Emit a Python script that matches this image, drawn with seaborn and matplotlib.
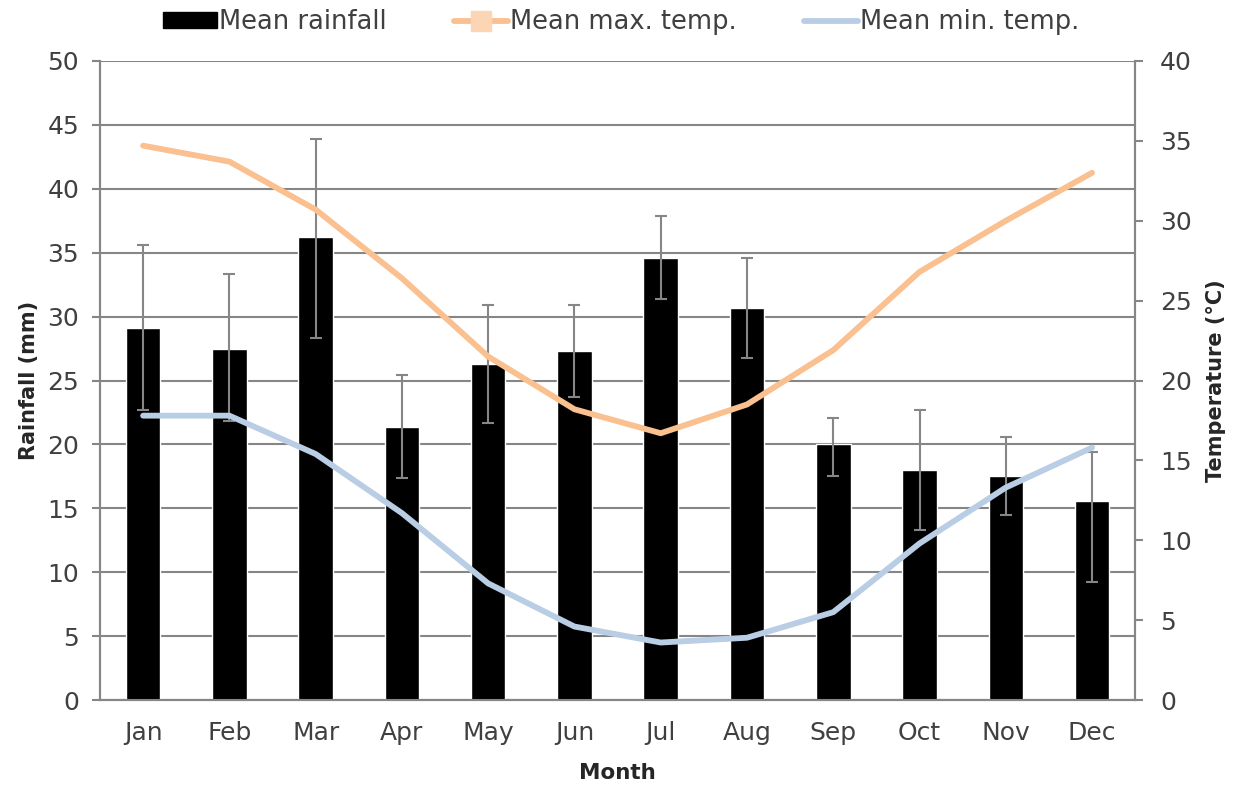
import numpy as np
import pandas as pd
import matplotlib
matplotlib.use("Agg")
import matplotlib.pyplot as plt
from matplotlib.lines import Line2D
from matplotlib.patches import Patch
import seaborn as sns

months = ["Jan", "Feb", "Mar", "Apr", "May", "Jun", "Jul", "Aug", "Sep", "Oct", "Nov", "Dec"]
rainfall = [29.1, 27.5, 36.2, 21.4, 26.3, 27.3, 34.6, 30.7, 20.0, 18.0, 17.5, 15.6]
rain_hi = [35.6, 33.3, 43.9, 25.4, 30.9, 30.9, 37.9, 34.6, 22.1, 22.7, 20.6, 19.4]
rain_lo = [22.7, 21.8, 28.3, 17.4, 21.7, 23.7, 31.4, 26.8, 17.5, 13.3, 14.5, 9.2]
tmax = [34.7, 33.7, 30.7, 26.4, 21.5, 18.2, 16.7, 18.5, 21.9, 26.8, 30.0, 33.0]
tmin = [17.8, 17.8, 15.4, 11.7, 7.3, 4.6, 3.6, 3.9, 5.5, 9.8, 13.3, 15.8]

df = pd.DataFrame({"Month": months, "Rainfall": rainfall, "Tmax": tmax, "Tmin": tmin})

sns.set_style("white")
plt.rcParams["font.family"] = ["DejaVu Sans"]

grey = "#868686"
txt = "#404040"
fig = plt.figure(figsize=(12.42, 7.87), dpi=100)
ax = fig.add_axes([0.0805, 0.1105, 0.8335, 0.812])

sns.barplot(data=df, x="Month", y="Rainfall", color="black", width=0.4,
            errorbar=None, ax=ax, zorder=3, saturation=1)
err = [np.array(rainfall) - np.array(rain_lo), np.array(rain_hi) - np.array(rainfall)]
ax.errorbar(np.arange(len(months)), rainfall, yerr=err, fmt="none",
            ecolor=grey, elinewidth=1.5, capsize=4.5, capthick=1.5, zorder=4)

ax.set_ylim(0, 50)
ax.set_yticks(np.arange(0, 51, 5))
ax.set_xlim(-0.5, 11.5)
ax.yaxis.grid(True, color=grey, linewidth=1.5, zorder=0)
ax.set_axisbelow(True)
ax.set_xticks(np.arange(-0.5, 12, 1), minor=True)
ax.tick_params(axis="x", which="major", length=0, pad=15, labelsize=18, colors=txt)
ax.tick_params(axis="x", which="minor", length=6, width=1.5, color=grey, direction="out")
ax.tick_params(axis="y", length=6, width=1.5, color=grey, direction="out", labelsize=18,
               labelcolor=txt, pad=9)
ax.set_xlabel("Month", fontsize=15.5, fontweight="bold", labelpad=13)
ax.set_ylabel("Rainfall (mm)", fontsize=15, fontweight="bold", labelpad=6)

ax2 = ax.twinx()
sns.lineplot(data=df, x="Month", y="Tmax", color="#FAC090", linewidth=4.2, ax=ax2, sort=False)
sns.lineplot(data=df, x="Month", y="Tmin", color="#B9CDE5", linewidth=4.2, ax=ax2, sort=False)
ax2.set_ylim(0, 40)
ax2.set_yticks(np.arange(0, 41, 5))
ax2.set_xlim(-0.5, 11.5)
ax2.tick_params(axis="y", length=6, width=1.5, color=grey, direction="out", labelsize=18,
                labelcolor=txt, pad=12)
ax2.set_ylabel("Temperature (°C)", fontsize=15, fontweight="bold", labelpad=10)

for a in (ax, ax2):
    a.spines["top"].set_visible(False)
    for s in ("left", "right", "bottom"):
        a.spines[s].set_color(grey)
        a.spines[s].set_linewidth(1.5)

handles = [
    Patch(facecolor="black", edgecolor="black"),
    Line2D([0], [0], color="#FAC090", linewidth=4.2, marker="s", markersize=14,
           markerfacecolor="#FCD5B5", markeredgecolor="#FCD5B5"),
    Line2D([0], [0], color="#B9CDE5", linewidth=4.2),
]
fig.legend(handles, ["Mean rainfall", "Mean max. temp.", "Mean min. temp."],
           loc="center", bbox_to_anchor=(0.5, 0.972), ncol=3, frameon=False,
           fontsize=18.5, handlelength=2.1, handleheight=0.55, handletextpad=0.1,
           columnspacing=2.6, labelcolor=txt)

fig.savefig("out.png", dpi=100)
